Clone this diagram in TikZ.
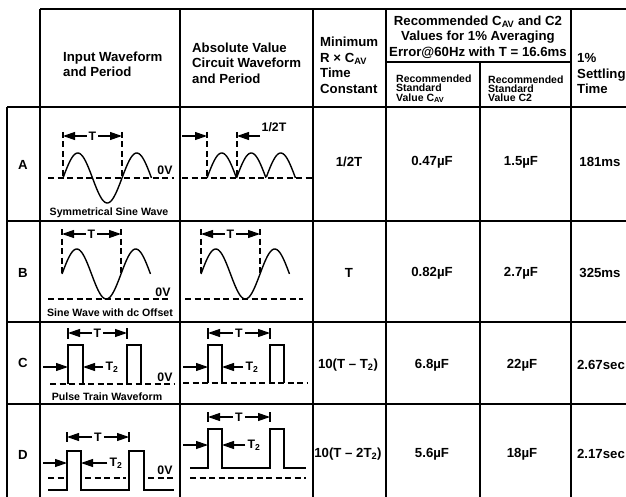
\documentclass[tikz,border=0pt]{standalone}
\usepackage{fontspec}
\setmainfont{Liberation Sans}
\usetikzlibrary{arrows.meta}

\tikzset{
  grid line/.style={line width=1.7pt},
  wave/.style={line width=1.4pt},
  zero line/.style={line width=1.1pt, dash pattern=on 6pt off 3.5pt},
  dim arrow/.style={line width=1.2pt, -{Triangle[length=12pt,width=8pt]}},
  head text/.style={font=\fontsize{13.2}{15.5}\selectfont\bfseries, align=left, anchor=west, inner sep=0pt},
  small head/.style={font=\fontsize{10.5}{9.2}\selectfont\bfseries, align=left, anchor=west, inner sep=0pt},
  cell text/.style={font=\fontsize{13.2}{15}\selectfont\bfseries, inner sep=0pt},
  note text/.style={font=\fontsize{10.6}{12}\selectfont\bfseries, inner sep=0pt},
  wave label/.style={font=\fontsize{12.3}{14}\selectfont\bfseries, inner sep=2pt},
}

\begin{document}
\begin{tikzpicture}[x=1pt, y=-1pt]
  \useasboundingbox (0,0) rectangle (626,497);

  % Grid
  \draw[grid line] (40,9) -- (626,9);
  \draw[grid line] (386,62) -- (571,62);
  \draw[grid line] (7,107) -- (626,107);
  \draw[grid line] (7,221) -- (626,221);
  \draw[grid line] (7,322) -- (626,322);
  \draw[grid line] (7,404) -- (626,404);
  \draw[grid line] (7,107) -- (7,497);
  \draw[grid line] (40,9) -- (40,497);
  \draw[grid line] (180,9) -- (180,497);
  \draw[grid line] (313,9) -- (313,497);
  \draw[grid line] (386,9) -- (386,497);
  \draw[grid line] (480,62) -- (480,497);
  \draw[grid line] (571,9) -- (571,497);

  % Header
  \node (hInput) [head text] at (63,64.5) {Input Waveform\\and Period};
  \node (hAbs) [head text] at (192,63) {Absolute Value\\Circuit Waveform\\and Period};
  \node (hMin) [head text] at (320,65.5) {Minimum\\R × C\textsubscript{AV}\\Time\\Constant};
  \node (hRec) [head text, align=center, anchor=center] at (478,37) {Recommended C\textsubscript{AV} and C2\\Values for 1\% Averaging\\Error@60Hz with T = 16.6ms};
  \node (hCav) [small head] at (396,89) {Recommended\\Standard\\Value C\textsubscript{AV}};
  \node (hCtwo) [small head] at (488,89) {Recommended\\Standard\\Value C2};
  \node (hSettle) [head text] at (577,73.5) {1\%\\Settling\\Time};

  % Row labels
  \node (rowA) [cell text] at (23,165) {A};
  \node (rowB) [cell text] at (23,273) {B};
  \node (rowC) [cell text] at (23,363) {C};
  \node (rowD) [cell text] at (23,455) {D};

  % Values
  \node (rcA) [cell text] at (349,162) {1/2T};
  \node (cavA) [cell text] at (432,162) {0.47µF};
  \node (ctwoA) [cell text] at (521,162) {1.5µF};
  \node (setA) [cell text] at (600,162) {181ms};
  \node (rcB) [cell text] at (349,273) {T};
  \node (cavB) [cell text] at (432,273) {0.82µF};
  \node (ctwoB) [cell text] at (521,273) {2.7µF};
  \node (setB) [cell text] at (600,273) {325ms};
  \node (rcC) [cell text] at (348,365) {10(T – T\textsubscript{2})};
  \node (cavC) [cell text] at (432,365) {6.8µF};
  \node (ctwoC) [cell text] at (522,365) {22µF};
  \node (setC) [cell text] at (601,365) {2.67sec};
  \node (rcD) [cell text] at (348,454) {10(T – 2T\textsubscript{2})};
  \node (cavD) [cell text] at (432,454) {5.6µF};
  \node (ctwoD) [cell text] at (522,454) {18µF};
  \node (setD) [cell text] at (601,454) {2.17sec};

  % Row A, input
  \draw[zero line] (48,178) -- (174,178);
  \draw[zero line] (63,132) -- (63,178);
  \draw[zero line] (122,132) -- (122,178);
  \draw[wave] plot[domain=0:1.5, samples=80, smooth] ({63+59*\x},{178-25*sin(360*\x)});
  \node (tAin) [wave label] at (92.5,136) {T};
  \coordinate (tAinL) at (63,136);
  \coordinate (tAinR) at (122,136);
  \draw[dim arrow] (tAin) -- (tAinL);
  \draw[dim arrow] (tAin) -- (tAinR);
  \node (zeroA) [wave label] at (165,170) {0V};
  \node (noteA) [note text] at (109,213) {Symmetrical Sine Wave};

  % Row A, absolute value
  \draw[zero line] (182,178) -- (312,178);
  \draw[zero line] (207,132) -- (207,178);
  \draw[zero line] (237,132) -- (237,178);
  \draw[wave] plot[domain=0:1.5, samples=90] ({207+59*\x},{178-25*abs(sin(360*\x))});
  \coordinate (hAfrom) at (182,136);
  \coordinate (hAto) at (207,136);
  \coordinate (hBfrom) at (260,136);
  \coordinate (hBto) at (237,136);
  \draw[dim arrow] (hAfrom) -- (hAto);
  \draw[dim arrow] (hBfrom) -- (hBto);
  \node (halfT) [wave label] at (274,127) {1/2T};

  % Row B, input
  \draw[zero line] (48,299) -- (170,299);
  \draw[zero line] (62,229) -- (62,274);
  \draw[zero line] (121,229) -- (121,274);
  \draw[wave] plot[domain=0:1.5, samples=80, smooth] ({62+59*\x},{274-25*sin(360*\x)});
  \node (tBin) [wave label] at (91.5,234) {T};
  \coordinate (tBinL) at (62,234);
  \coordinate (tBinR) at (121,234);
  \draw[dim arrow] (tBin) -- (tBinL);
  \draw[dim arrow] (tBin) -- (tBinR);
  \node (zeroB) [wave label] at (163,292) {0V};
  \node (noteB) [note text] at (110,313) {Sine Wave with dc Offset};

  % Row B, absolute value
  \draw[zero line] (185,299) -- (303,299);
  \draw[zero line] (201,229) -- (201,274);
  \draw[zero line] (260,229) -- (260,274);
  \draw[wave] plot[domain=0:1.5, samples=80, smooth] ({201+59*\x},{274-25*sin(360*\x)});
  \node (tBabs) [wave label] at (230.5,234) {T};
  \coordinate (tBabsL) at (201,234);
  \coordinate (tBabsR) at (260,234);
  \draw[dim arrow] (tBabs) -- (tBabsL);
  \draw[dim arrow] (tBabs) -- (tBabsR);

  % Row C, input
  \draw[zero line] (50,384) -- (174,384);
  \draw[wave] (68,384) -- (68,345) -- (83,345) -- (83,384);
  \draw[wave] (127,384) -- (127,345) -- (141,345) -- (141,384);
  \draw[wave] (68,328) -- (68,339);
  \draw[wave] (127,328) -- (127,339);
  \node (tCin) [wave label] at (97.5,333) {T};
  \coordinate (tCinL) at (68,333);
  \coordinate (tCinR) at (127,333);
  \draw[dim arrow] (tCin) -- (tCinL);
  \draw[dim arrow] (tCin) -- (tCinR);
  \coordinate (pCinFrom) at (43,367);
  \coordinate (pCinTo) at (68,367);
  \draw[dim arrow] (pCinFrom) -- (pCinTo);
  \node (wCin) [wave label] at (112,367) {T\textsubscript{2}};
  \coordinate (wCinTo) at (83,367);
  \draw[dim arrow] (wCin) -- (wCinTo);
  \node (zeroC) [wave label] at (165,377) {0V};
  \node (noteC) [note text] at (107,397) {Pulse Train Waveform};

  % Row C, absolute value
  \draw[zero line] (183,383) -- (308,383);
  \draw[wave] (208,383) -- (208,345) -- (222,345) -- (222,383);
  \draw[wave] (270,383) -- (270,345) -- (284,345) -- (284,383);
  \draw[wave] (208,328) -- (208,339);
  \draw[wave] (270,328) -- (270,339);
  \node (tCabs) [wave label] at (239,333) {T};
  \coordinate (tCabsL) at (208,333);
  \coordinate (tCabsR) at (270,333);
  \draw[dim arrow] (tCabs) -- (tCabsL);
  \draw[dim arrow] (tCabs) -- (tCabsR);
  \coordinate (pCabsFrom) at (183,367);
  \coordinate (pCabsTo) at (208,367);
  \draw[dim arrow] (pCabsFrom) -- (pCabsTo);
  \node (wCabs) [wave label] at (252,367) {T\textsubscript{2}};
  \coordinate (wCabsTo) at (222,367);
  \draw[dim arrow] (wCabs) -- (wCabsTo);

  % Row D, input
  \draw[zero line] (48,478) -- (64,478);
  \draw[zero line] (85,478) -- (126,478);
  \draw[zero line] (148,478) -- (174,478);
  \draw[wave] (48,490) -- (67,490) -- (67,451) -- (81,451) -- (81,490) -- (129,490) -- (129,451) -- (144,451) -- (144,490) -- (174,490);
  \draw[wave] (67,432) -- (67,442);
  \draw[wave] (129,432) -- (129,442);
  \node (tDin) [wave label] at (98,437) {T};
  \coordinate (tDinL) at (67,437);
  \coordinate (tDinR) at (129,437);
  \draw[dim arrow] (tDin) -- (tDinL);
  \draw[dim arrow] (tDin) -- (tDinR);
  \coordinate (pDinFrom) at (43,463);
  \coordinate (pDinTo) at (67,463);
  \draw[dim arrow] (pDinFrom) -- (pDinTo);
  \node (wDin) [wave label] at (116,463) {T\textsubscript{2}};
  \coordinate (wDinTo) at (81,463);
  \draw[dim arrow] (wDin) -- (wDinTo);
  \node (zeroD) [wave label] at (165,470) {0V};

  % Row D, absolute value
  \draw[zero line] (190,478) -- (306,478);
  \draw[wave] (190,468) -- (208,468) -- (208,429) -- (222,429) -- (222,468) -- (270,468) -- (270,429) -- (284,429) -- (284,468) -- (306,468);
  \draw[wave] (208,412) -- (208,422);
  \draw[wave] (270,412) -- (270,422);
  \node (tDabs) [wave label] at (239,417) {T};
  \coordinate (tDabsL) at (208,417);
  \coordinate (tDabsR) at (270,417);
  \draw[dim arrow] (tDabs) -- (tDabsL);
  \draw[dim arrow] (tDabs) -- (tDabsR);
  \coordinate (pDabsFrom) at (183,445);
  \coordinate (pDabsTo) at (208,445);
  \draw[dim arrow] (pDabsFrom) -- (pDabsTo);
  \node (wDabs) [wave label] at (254,445) {T\textsubscript{2}};
  \coordinate (wDabsTo) at (222,445);
  \draw[dim arrow] (wDabs) -- (wDabsTo);
\end{tikzpicture}
\end{document}
